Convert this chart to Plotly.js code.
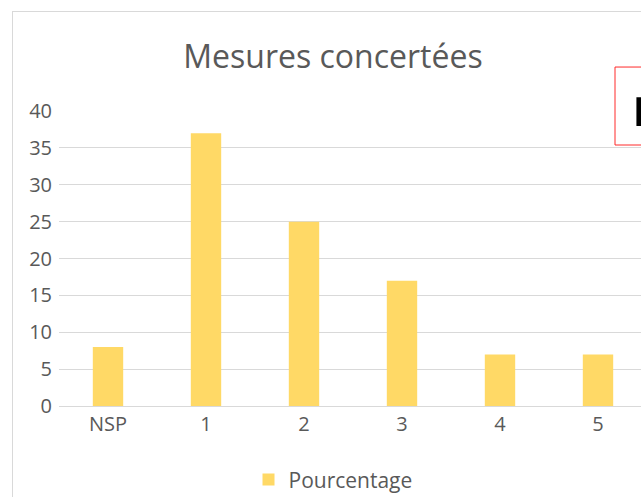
<!DOCTYPE html>
<html>
<head>
<meta charset="utf-8">
<script src="https://cdn.plot.ly/plotly-3.0.1.min.js"></script>
<style>
html, body { margin: 0; padding: 0; overflow: hidden; background: #fff; width: 641px; height: 497px; }
#frame { position: absolute; left: 12px; top: 11px; width: 720px; height: 540px; border: 1px solid #d9d9d9; box-sizing: border-box; }
#chart { position: absolute; left: 13px; top: 12px; }
</style>
</head>
<body>
<div id="frame"></div>
<div id="chart"></div>
<script>
const categories = ["NSP", "1", "2", "3", "4", "5"];
const pourcentage = [8, 37, 25, 17, 7, 7];
const yTicks = [0, 5, 10, 15, 20, 25, 30, 35, 40];
const seriesName = "Pourcentage";
const chartTitle = "Mesures concertées";

const font = "'Open Sans', 'Noto Sans', sans-serif";
const textColor = "#595959";

const data = [{
  type: "bar",
  x: categories,
  y: pourcentage,
  name: seriesName,
  marker: { color: "#FFD966" },
  width: 0.31,
  hoverinfo: "x+y"
}];

const layout = {
  width: 660,
  height: 500,
  margin: { l: 46, r: 26, t: 99, b: 106 },
  paper_bgcolor: "rgba(0,0,0,0)",
  plot_bgcolor: "rgba(0,0,0,0)",
  font: { family: font, color: textColor, size: 20 },
  title: {
    text: chartTitle,
    font: { family: font, size: 32, color: textColor },
    x: (333 - 13) / 660,
    xanchor: "center",
    y: 1 - (57 - 12) / 500,
    yanchor: "middle"
  },
  showlegend: true,
  legend: {
    orientation: "h",
    x: 0.466,
    xanchor: "center",
    y: -0.25,
    yanchor: "middle",
    font: { family: font, size: 21, color: textColor },
    itemwidth: 30
  },
  xaxis: {
    type: "category",
    range: [-0.5, 5.5],
    showgrid: false,
    showline: true,
    linecolor: "#d9d9d9",
    linewidth: 1,
    ticks: "",
    tickfont: { family: font, size: 20, color: textColor },
    fixedrange: true
  },
  yaxis: {
    range: [0, 40],
    tickvals: yTicks,
    ticktext: yTicks.map(String),
    showgrid: true,
    gridcolor: "#d9d9d9",
    gridwidth: 1,
    zeroline: false,
    showline: false,
    ticks: "",
    ticklabelstandoff: 6,
    tickfont: { family: font, size: 20, color: textColor },
    fixedrange: true
  },
  shapes: [{
    type: "rect",
    xref: "paper", yref: "paper",
    x0: 0.9456, x1: 1.3,
    y0: 0.8847, y1: 1.149,
    line: { color: "#ff2a2a", width: 1 },
    fillcolor: "#ffffff",
    layer: "above"
  }, {
    type: "rect",
    xref: "paper", yref: "paper",
    x0: 0.982, x1: 1.05,
    y0: 0.949, y1: 1.047,
    line: { width: 0 },
    fillcolor: "#000000",
    layer: "above"
  }]
};

Plotly.newPlot("chart", data, layout, { displayModeBar: false, staticPlot: true });
</script>
</body>
</html>
